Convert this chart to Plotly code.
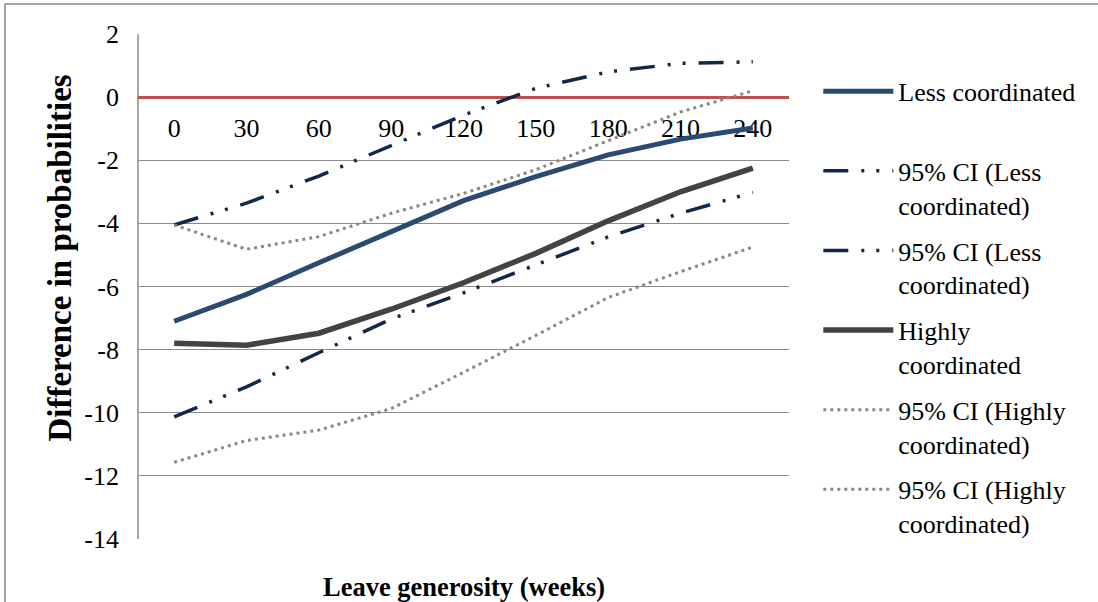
import plotly.graph_objects as go

# Leave generosity categories (weeks)
weeks = ["0", "30", "60", "90", "120", "150", "180", "210", "240"]

# Y-axis ticks, labelled with a plain hyphen for negatives
y_ticks = [2, 0, -2, -4, -6, -8, -10, -12, -14]
y_tick_labels = ["2", "0", "-2", "-4", "-6", "-8", "-10", "-12", "-14"]

# Differences in probabilities by coordination level, with 95% confidence bounds
less_coord = [-7.10, -6.25, -5.25, -4.25, -3.28, -2.52, -1.83, -1.33, -0.98]
less_ci_upper = [-4.05, -3.36, -2.50, -1.52, -0.57, 0.28, 0.80, 1.07, 1.12]
less_ci_lower = [-10.13, -9.18, -8.10, -7.03, -6.20, -5.32, -4.43, -3.68, -3.02]
high_coord = [-7.80, -7.86, -7.48, -6.72, -5.88, -4.95, -3.92, -3.00, -2.25]
high_ci_upper = [-4.05, -4.82, -4.42, -3.68, -3.05, -2.30, -1.38, -0.47, 0.20]
high_ci_lower = [-11.57, -10.88, -10.55, -9.87, -8.72, -7.55, -6.35, -5.53, -4.75]

FONT = "Liberation Serif"
NAVY = "#2A4A72"
NAVY_DARK = "#10294A"
CHARCOAL = "#434343"
GREY_DOT = "#888888"
DASH_DOT_DOT = "25px,13px,3px,12px,3px,13px"
DOTS = "3px,4px"

series = [
    ("Less coordinated<br> ", less_coord, NAVY, 5, "solid"),
    ("95% CI (Less<br>coordinated)", less_ci_upper, NAVY_DARK, 3.5, DASH_DOT_DOT),
    ("95% CI (Less<br>coordinated)", less_ci_lower, NAVY_DARK, 3.5, DASH_DOT_DOT),
    ("Highly<br>coordinated", high_coord, CHARCOAL, 5.5, "solid"),
    ("95% CI (Highly<br>coordinated)", high_ci_upper, GREY_DOT, 3, DOTS),
    ("95% CI (Highly<br>coordinated)", high_ci_lower, GREY_DOT, 3, DOTS),
]

fig = go.Figure()
for i, (name, vals, color, width, dash) in enumerate(series):
    fig.add_trace(go.Scatter(
        x=weeks, y=vals, name=name, mode="lines",
        legendgroup=f"g{i}",
        line=dict(color=color, width=width, dash=dash),
        hoverinfo="skip",
    ))

fig.update_layout(
    width=1098, height=602,
    margin=dict(l=138, r=309, t=34, b=63),
    paper_bgcolor="white", plot_bgcolor="white",
    font=dict(family=FONT, size=26, color="black"),
    showlegend=True,
    legend=dict(
        x=1.045, y=0.933, xanchor="left", yanchor="top",
        font=dict(family=FONT, size=26, color="black"),
        itemwidth=70, tracegroupgap=9, valign="top",
        bgcolor="rgba(0,0,0,0)",
    ),
    xaxis=dict(
        type="category", categoryorder="array", categoryarray=weeks,
        range=[-0.5, 8.5],
        anchor="free", position=14 / 16,
        showline=True, linecolor="#C0504D", linewidth=3,
        showgrid=False, zeroline=False, ticks="",
        ticklabelstandoff=7,
        tickfont=dict(family=FONT, size=26, color="black"),
        layer="below traces",
    ),
    yaxis=dict(
        range=[-14, 2], tickmode="array", tickvals=y_ticks, ticktext=y_tick_labels,
        showgrid=True, gridcolor="#8C8C8C", gridwidth=1.3,
        showline=False, zeroline=False, ticks="",
        ticklabelstandoff=18,
        tickfont=dict(family=FONT, size=26, color="black"),
        layer="below traces",
    ),
    annotations=[
        dict(
            text="<b>Leave generosity (weeks)</b>",
            xref="paper", yref="paper", x=0.5, y=-0.095,
            xanchor="center", yanchor="middle", showarrow=False,
            font=dict(family=FONT, size=26.5, color="black"),
        ),
        dict(
            text="<b>Difference in probabilities</b>",
            xref="paper", yref="paper", x=-0.12, y=0.557,
            xanchor="center", yanchor="middle", showarrow=False,
            textangle=-90,
            font=dict(family=FONT, size=33, color="black"),
        ),
    ],
    shapes=[
        # outer chart frame (top and left edges fall inside the page)
        dict(
            type="rect", xref="paper", yref="paper",
            x0=-0.2043, x1=1.6, y0=-0.2, y1=1.0594,
            line=dict(color="#888888", width=1.5), fillcolor="rgba(0,0,0,0)",
            layer="below",
        ),
        # vertical axis line on the left edge of the plot area
        dict(
            type="line", xref="paper", yref="paper",
            x0=0, x1=0, y0=0, y1=1,
            line=dict(color="#8C8C8C", width=1.5),
            layer="below",
        ),
    ],
)

fig.write_html("out.html")
